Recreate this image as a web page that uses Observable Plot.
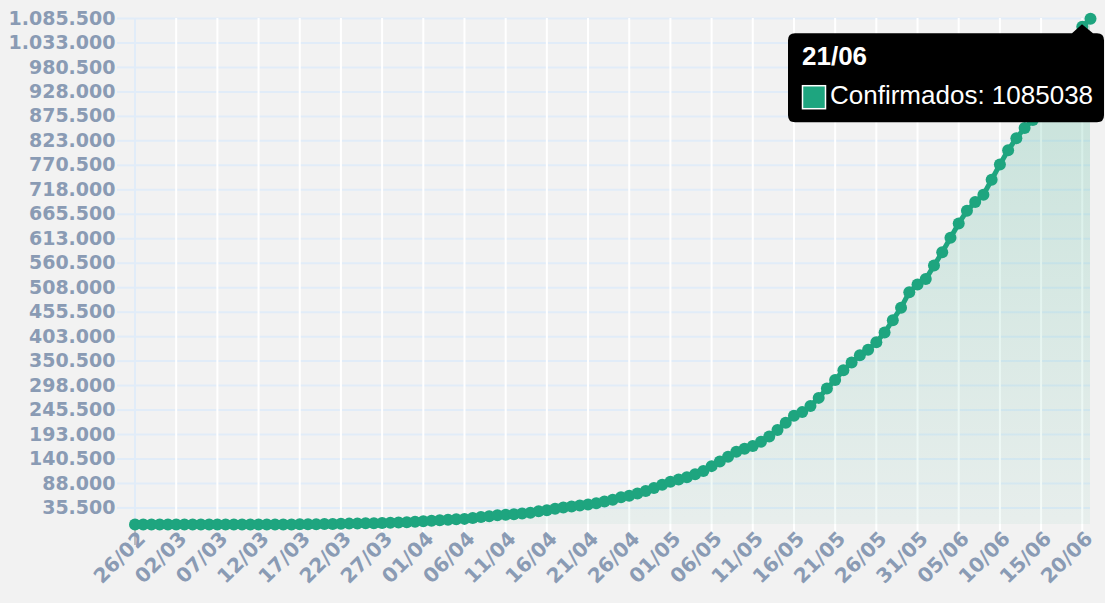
<!DOCTYPE html>
<html><head><meta charset="utf-8">
<script src="https://cdn.jsdelivr.net/npm/d3@7"></script>
<script src="https://cdn.jsdelivr.net/npm/@observablehq/plot@0.6"></script>
<style>
html,body{margin:0;padding:0;background:#f2f2f2;overflow:hidden;}
</style></head><body><div id="wrap"></div>
<script>
const startDate = "2020-02-26";
const endDate = "2020-06-21";
const confirmed = [1,1,1,2,
2,2,2,3,8,13,19,25,25,34,52,77,98,121,200,234,291,428,621,904,1128,1546,1891,2201,2433,2915,3417,3904,4256,4579,5717,
6836,8044,9056,10278,11130,12056,13717,15927,17857,19638,20727,22169,23430,25262,28320,30425,33682,36599,38654,40581,43079,45757,49492,52995,58509,61888,66501,71886,78162,85380,
91589,96559,101147,107780,114715,125218,135106,145328,155939,162699,168331,177589,188974,202918,218223,233142,241080,254220,271628,291579,310087,330890,347398,363211,374898,391222,411821,438238,465166,498440,514849,
526447,555383,584016,614941,645771,672846,691758,707412,739503,772416,802828,828810,850514,867624,888271,923189,955377,978142,1032913,1067579,1085038];
const xTickLabels = ["26/02","02/03","07/03","12/03","17/03","22/03","27/03","01/04","06/04","11/04","16/04","21/04","26/04","01/05","06/05","11/05","16/05","21/05","26/05","31/05","05/06","10/06","15/06","20/06"];
const yTicks = [35500,88000,140500,193000,245500,298000,350500,403000,455500,508000,560500,613000,665500,718000,770500,823000,875500,928000,980500,1033000,1085500];
const seriesName = "Confirmados";

const green = "#1ea57f";
const labelColor = "#8a9bb4";
const gridBlue = "#e1ecf8";

const start = new Date(startDate + "T00:00:00Z");
const end = new Date(endDate + "T00:00:00Z");
const dates = d3.utcDay.range(start, d3.utcDay.offset(end, 1));
const data = confirmed.map((v, i) => ({date: dates[i], value: v}));
const parseDM = s => { const [d, m] = s.split("/").map(Number); return new Date(Date.UTC(2020, m - 1, d)); };
const xTicks = xTickLabels.map(parseDM);
const fmtDM = d3.utcFormat("%d/%m");
const loc = d3.formatLocale({decimal: ",", thousands: ".", grouping: [3], currency: ["", ""]});
const fmtY = loc.format(",d");

const chart = Plot.plot({
  width: 1105, height: 603,
  marginTop: 18, marginBottom: 79, marginLeft: 134.5, marginRight: 15,
  style: {background: "#f2f2f2", fontFamily: "DejaVu Sans", fontSize: "18.5px", fontWeight: "bold", color: labelColor},
  x: {type: "utc", domain: [start, end]},
  y: {domain: [0, 1085500]},
  marks: [
    Plot.gridY(yTicks, {stroke: gridBlue, strokeOpacity: 1, strokeWidth: 2}),
    Plot.gridX(xTicks, {stroke: "#ffffff", strokeOpacity: 1, strokeWidth: 2}),
    Plot.axisX(xTicks, {tickSize: 9, stroke: "#ffffff", strokeOpacity: 1, strokeWidth: 2, text: null, label: null}),
    Plot.ruleX([start], {stroke: gridBlue, strokeWidth: 2}),
    Plot.axisX([start], {tickSize: 21, stroke: "#aaaaaa", strokeOpacity: 1, strokeWidth: 1.5, text: null, label: null}),
    Plot.axisY(yTicks, {tickSize: 17.5, stroke: gridBlue, strokeOpacity: 1, strokeWidth: 2, tickPadding: 2, tickFormat: fmtY, fill: labelColor, label: null, fontSize: 19}),
    Plot.areaY(data, {x: "date", y: "value", fill: "url(#areaGrad)"}),
    Plot.line(data, {x: "date", y: "value", stroke: green, strokeWidth: 5}),
    Plot.dot(data, {x: "date", y: "value", r: 6, fill: green}),
    Plot.axisX(xTicks, {tickSize: 0, tickPadding: 11, tickRotate: -45, tickFormat: fmtDM, fill: labelColor, dx: 7, label: null, fontSize: 20})
  ]
});

const svg = d3.select(chart);
const defs = svg.insert("defs", ":first-child");
const grad = defs.append("linearGradient").attr("id", "areaGrad").attr("x1", 0).attr("y1", 0).attr("x2", 0).attr("y2", 1);
grad.append("stop").attr("offset", "0%").attr("stop-color", green).attr("stop-opacity", 0.22);
grad.append("stop").attr("offset", "100%").attr("stop-color", green).attr("stop-opacity", 0.05);

// tooltip on last point
const last = data[data.length - 1];
const px = chart.scale("x").apply(last.date);
const py = chart.scale("y").apply(last.value);
const bx0 = px - 302, bx1 = px + 14, by0 = py + 15, by1 = py + 104, r = 7;
const ax = px - 8, ay = py + 6;
const path = `M${bx0 + r},${by0} L${ax - 10},${by0} L${ax},${ay} L${ax + 11},${by0} L${bx1 - r},${by0} Q${bx1},${by0} ${bx1},${by0 + r} L${bx1},${by1 - r} Q${bx1},${by1} ${bx1 - r},${by1} L${bx0 + r},${by1} Q${bx0},${by1} ${bx0},${by1 - r} L${bx0},${by0 + r} Q${bx0},${by0} ${bx0 + r},${by0} Z`;
const tip = svg.append("g").attr("font-family", "Liberation Sans, Arial, sans-serif").attr("font-weight", "normal").attr("text-anchor", "start");
tip.append("path").attr("d", path).attr("fill", "#000000");
tip.append("text").attr("x", bx0 + 14).attr("y", by0 + 32).attr("fill", "#ffffff").attr("font-size", 26).attr("font-weight", "bold").text(fmtDM(last.date));
tip.append("rect").attr("x", bx0 + 14.5).attr("y", by0 + 52.5).attr("width", 23).attr("height", 23).attr("fill", green).attr("stroke", "#ffffff").attr("stroke-width", 1.5);
tip.append("text").attr("x", bx0 + 42).attr("y", by0 + 71).attr("fill", "#ffffff").attr("font-size", 26).text(`${seriesName}: ${last.value}`);

document.getElementById("wrap").appendChild(chart);
</script>
</body></html>
